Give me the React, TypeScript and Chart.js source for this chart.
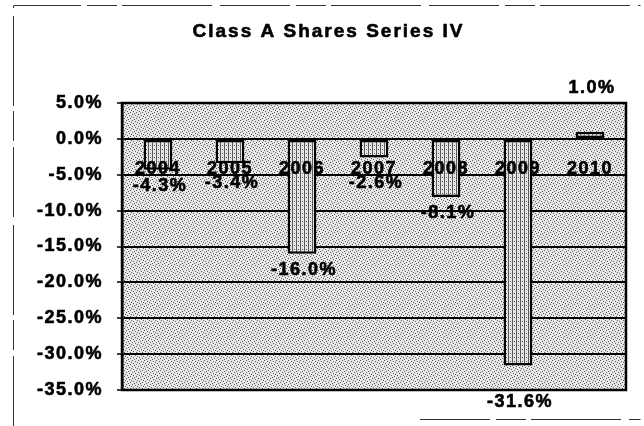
import { useEffect, useRef } from 'react';
import { Chart, registerables } from 'chart.js';

Chart.register(...registerables);

const years = ['2004', '2005', '2006', '2007', '2008', '2009', '2010'];
const returns = [-4.3, -3.4, -16.0, -2.6, -8.1, -31.6, 1.0];
const yTickValues = [5, 0, -5, -10, -15, -20, -25, -30, -35];
const chartTitle = 'Class A Shares Series IV';

const FONT = "'Liberation Sans', Arial, sans-serif";

function makePattern(size: number, bg: string, fg: string, pts: number[][]) {
  const c = document.createElement('canvas');
  c.width = size;
  c.height = size;
  const g = c.getContext('2d')!;
  g.fillStyle = bg;
  g.fillRect(0, 0, size, size);
  g.fillStyle = fg;
  pts.forEach(([x, y, w, h]) => g.fillRect(x, y, w, h));
  return g.createPattern(c, 'repeat')!;
}

export default function App() {
  const ref = useRef<HTMLCanvasElement>(null);

  useEffect(() => {
    const canvas = ref.current!;
    const ctx0 = canvas.getContext('2d')!;
    const bgPattern = makePattern(6, '#e8e8e8', '#5a5a5a', [
      [0, 0, 1, 1], [3, 1, 1, 1], [1, 3, 1, 1], [4, 4, 1, 1], [2, 5, 1, 1], [5, 2, 1, 1],
    ]);
    const barPattern = makePattern(4, '#e4e4e4', '#5a5a5a', [
      [0, 0, 1, 4], [2, 1, 1, 1],
    ]);

    const heavyText = (ctx: CanvasRenderingContext2D, s: string, x: number, y: number) => {
      ctx.lineWidth = 0.6;
      ctx.strokeStyle = '#000';
      ctx.strokeText(s, x, y);
      ctx.fillText(s, x, y);
    };

    const deco = {
      id: 'deco',
      beforeDraw(chart: any) {
        const { ctx, chartArea: a } = chart;
        ctx.letterSpacing = '1.5px';
        ctx.save();
        ctx.fillStyle = '#ffffff';
        ctx.fillRect(0, 0, chart.width, chart.height);
        ctx.fillStyle = bgPattern;
        ctx.fillRect(a.left, a.top, a.right - a.left, a.bottom - a.top);
        ctx.restore();
      },
      afterDatasetsDraw(chart: any) {
        const { ctx, chartArea: a } = chart;
        const meta = chart.getDatasetMeta(0);
        const yScale = chart.scales.y;
        const zero = yScale.getPixelForValue(0);
        ctx.save();
        ctx.fillStyle = '#000';
        ctx.font = `bold 18px ${FONT}`;
        ctx.textAlign = 'center';
        ctx.textBaseline = 'middle';
        meta.data.forEach((bar: any, i: number) => {
          const v = returns[i];
          let y: number;
          if (v < 0) {
            y = Math.max(bar.y + 16, zero + 44);
            if (y > a.bottom - 18) y = a.bottom + 12;
          } else {
            y = bar.y - 16;
            if (y < a.top + 18) y = a.top - 15;
          }
          heavyText(ctx, v.toFixed(1) + '%', bar.x + 2, y);
        });
        ctx.restore();
      },
      afterDraw(chart: any) {
        const { ctx, chartArea: a } = chart;
        ctx.save();
        // plot border
        ctx.strokeStyle = '#000';
        ctx.lineWidth = 2.5;
        ctx.strokeRect(a.left, a.top, a.right - a.left, a.bottom - a.top);
        // outer frame
        ctx.strokeStyle = '#333';
        ctx.lineWidth = 1;
        ctx.setLineDash([70, 6, 30, 5, 90, 8]);
        ctx.beginPath();
        ctx.moveTo(13.5, 426);
        ctx.lineTo(13.5, 5.5);
        ctx.lineTo(640.5, 5.5);
        ctx.stroke();
        ctx.beginPath();
        ctx.moveTo(420, 419.5);
        ctx.lineTo(640.5, 419.5);
        ctx.stroke();
        ctx.setLineDash([]);
        // title
        ctx.fillStyle = '#000';
        ctx.font = `bold 19px ${FONT}`;
        ctx.letterSpacing = '2px';
        ctx.textAlign = 'center';
        ctx.textBaseline = 'middle';
        heavyText(ctx, chartTitle, (13 + 640) / 2 + 2, 32);
        ctx.restore();
        ctx.letterSpacing = '1.5px';
      },
    };

    const chart = new Chart(ctx0, {
      type: 'bar',
      data: {
        labels: years,
        datasets: [
          {
            data: returns,
            backgroundColor: barPattern as any,
            borderColor: '#000',
            borderWidth: 2.5,
            borderSkipped: false,
            categoryPercentage: 1,
            barPercentage: 0.4,
          },
        ],
      },
      options: {
        responsive: false,
        animation: false,
        layout: { padding: { top: 103, bottom: 36, right: 18, left: 0 } },
        plugins: {
          legend: { display: false },
          title: { display: false },
          tooltip: { enabled: false },
        },
        scales: {
          x: {
            position: { y: 0 } as any,
            grid: { display: false, drawTicks: false },
            border: { display: false },
            ticks: {
              z: 1,
              color: '#000',
              textStrokeColor: '#000',
              textStrokeWidth: 0.6,
              font: { family: FONT, size: 18, weight: 'bold' },
              padding: 19,
              maxRotation: 0,
              autoSkip: false,
            },
          },
          y: {
            min: Math.min(...yTickValues),
            max: Math.max(...yTickValues),
            afterFit(scale: any) {
              scale.width = 122;
            },
            grid: {
              color: '#000',
              lineWidth: 2,
              tickLength: 5,
              tickColor: '#000',
              tickWidth: 1.5,
            },
            border: { display: true, color: '#000', width: 2.5 },
            ticks: {
              stepSize: 5,
              color: '#000',
              textStrokeColor: '#000',
              textStrokeWidth: 0.6,
              padding: 14,
              font: { family: FONT, size: 18, weight: 'bold' },
              callback: (v: any) => Number(v).toFixed(1) + '%',
            },
          },
        },
      },
      plugins: [deco],
    });

    return () => chart.destroy();
  }, []);

  return (
    <div style={{ position: 'absolute', left: 0, top: 0, width: 644, height: 426, background: '#fff' }}>
      <canvas ref={ref} width={644} height={426} />
    </div>
  );
}
